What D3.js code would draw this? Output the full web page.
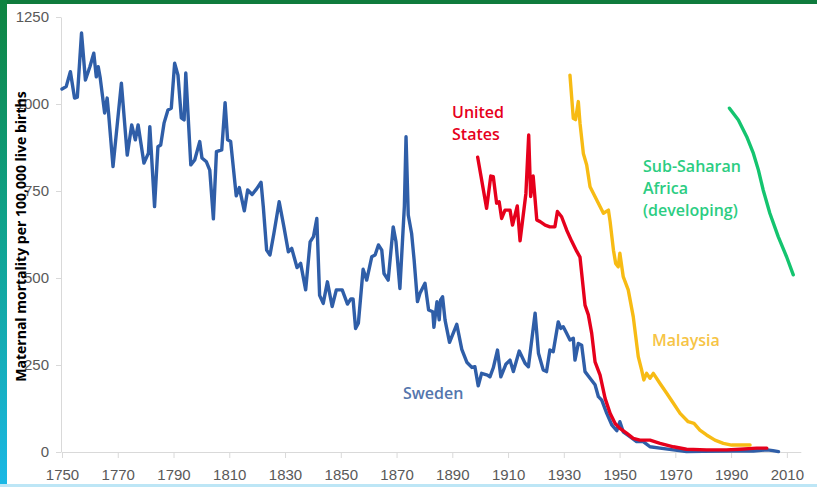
<!DOCTYPE html>
<html>
<head>
<meta charset="utf-8">
<script src="https://cdn.jsdelivr.net/npm/d3@7"></script>
<style>
  html, body { margin: 0; padding: 0; background: #fff; }
  svg { display: block; font-family: "Open Sans", "Liberation Sans", sans-serif; }
</style>
</head>
<body>
<svg id="chart" width="817" height="487"></svg>
<script>
// ---- data (year, deaths per 100,000 live births) ----
const swedenYears = [1750,1751.5,1753,1754.5,1755.5,1757,1758.4,1760,1761.4,1762.3,1763,1763.7,1765.3,1766.2,1766.7,1768.3,1771.3,1773.4,1775,1776.3,1777.3,1779.4,1781,1781.5,1783.2,1784.4,1785.4,1786.6,1788,1789.2,1790.4,1791.6,1792.8,1793.8,1794.4,1796.2,1797.6,1799.4,1800.2,1801.8,1803,1804.3,1805.4,1807.3,1808.5,1809.4,1810.5,1812.5,1813.6,1815.4,1816.6,1818.2,1819.8,1821.4,1822.2,1823.4,1824.6,1826,1827.9,1829.6,1831.2,1832.4,1834.3,1835.6,1837.4,1839,1840.2,1841.4,1842.4,1843.7,1845.2,1846.9,1848.4,1850.5,1852.4,1853.6,1854.4,1855.3,1856.3,1858,1859.3,1861.1,1862.3,1863.5,1864.7,1865.5,1867,1868.8,1869.8,1871.2,1872.8,1873.4,1874.2,1875.4,1876.3,1877.5,1878.4,1880.2,1881.5,1883,1883.4,1884.5,1885.3,1885.8,1886.5,1887.4,1889,1891.6,1893.4,1895.2,1897,1898.1,1899.3,1900.5,1902.6,1903.5,1904.7,1906.2,1907.4,1909.2,1910.7,1911.9,1914,1916.1,1917.3,1919.7,1920.9,1922.6,1923.8,1925,1926.2,1928,1928.9,1929.8,1931,1932.2,1933.4,1934,1935.2,1936.4,1937.6,1939.4,1941.2,1942.4,1943.6,1945.4,1947.2,1949,1950.1,1951.3,1953.7,1956.1,1958.5,1960.9,1964.5,1969.3,1974,1980,1990,1998,2003,2005,2007];
const swedenValues = [1043,1050,1093,1017,1020,1204,1069,1107,1146,1078,1107,1075,974,1017,974,820,1060,853,940,897,940,830,859,935,705,877,882,945,983,988,1117,1083,960,954,1089,825,839,892,845,834,810,670,863,868,1004,897,892,736,760,693,753,740,756,775,705,580,566,628,719,647,575,585,530,542,466,604,619,671,450,427,489,418,466,466,425,440,440,355,370,525,494,561,566,595,580,513,494,647,604,470,705,906,681,628,552,432,456,485,408,403,358,432,380,437,446,379,315,367,295,258,243,245,190,226,221,216,242,293,216,252,264,231,290,255,245,399,284,236,231,293,288,374,355,360,341,322,327,264,312,307,231,212,193,159,149,111,78,61,87,58,44,30,30,15,11,6,1,2,3,3,6,4,1];

const usYears = [1899.1,1902.3,1903.8,1904.7,1905.9,1906.8,1907.7,1908.9,1910.7,1911.6,1913.3,1914.3,1916.4,1917.4,1918.1,1919,1920.3,1921.5,1923.3,1925,1926.8,1927.7,1929.2,1931,1932.8,1934.6,1935.8,1936.4,1937.6,1938.8,1940,1941.2,1943,1944.8,1946.6,1948.4,1950.1,1952.5,1954.9,1957.3,1960.9,1964.5,1969.3,1974,1981.2,1988.4,1993.2,1999.2,2002.8];
const usValues = [847,700,793,791,715,719,671,695,695,652,707,607,743,911,734,793,667,662,652,647,647,691,676,638,606,577,560,514,422,394,341,259,221,154,111,82,68,54,39,34,34,25,15,8,6,6,8,11,11];

const malaysiaYears = [1932.2,1933.4,1934.2,1935.2,1935.8,1937,1938.2,1939.4,1941.8,1944.2,1946,1946.6,1947.8,1948.6,1949.5,1950.1,1951.3,1953.1,1954.9,1956.7,1957.9,1958.7,1959.7,1960.9,1962.1,1964.5,1966.9,1969.3,1971.7,1974.6,1976.7,1978.8,1981.2,1984.2,1987.2,1990.2,1993.2,1996.8];
const malaysiaValues = [1083,959,955,1007,945,858,825,762,724,686,695,662,580,542,532,571,504,466,389,274,236,207,226,212,226,197,169,140,111,87,82,63,49,34,25,20,20,20];

const ssaYears = [1989.4,1992.6,1995.6,1998,1999.8,2001.5,2003.9,2006.9,2009.9,2012.3];
const ssaValues = [988,954,906,858,810,753,686,619,561,509];

const xTicks = d3.range(1750, 2011, 20);
const yTicks = [0, 250, 500, 750, 1000, 1250];

const seriesNames = ["Sweden", "United States", "Malaysia", "Sub-Saharan Africa"];
const seriesColors = ["#2f5ea8", "#e6001c", "#f7bb14", "#14c46f"];

// ---- drawing ----
const svg = d3.select("#chart");
const W = 817, H = 487;

// slide frame
const defs = svg.append("defs");
const grad = defs.append("linearGradient").attr("id", "leftEdge")
  .attr("x1", 0).attr("y1", 0).attr("x2", 0).attr("y2", 1);
grad.append("stop").attr("offset", "0%").attr("stop-color", "#0e8440");
grad.append("stop").attr("offset", "45%").attr("stop-color", "#10a28a");
grad.append("stop").attr("offset", "100%").attr("stop-color", "#1bb8e6");

svg.append("rect").attr("width", W).attr("height", H).attr("fill", "#fff");
svg.append("rect").attr("x", 0).attr("y", 0).attr("width", W).attr("height", 4).attr("fill", "#0f7b3d");
svg.append("rect").attr("x", 0).attr("y", 0).attr("width", 7).attr("height", H).attr("fill", "url(#leftEdge)");
svg.append("rect").attr("x", 0).attr("y", 484).attr("width", W).attr("height", 3).attr("fill", "#bde6f6");

const x = d3.scaleLinear().domain([1750, 2015]).range([62, 800.8]);
const y = d3.scaleLinear().domain([0, 1250]).range([452, 17]);

// x axis
const xAxis = svg.append("g").attr("transform", `translate(0,${y(0)})`)
  .call(d3.axisBottom(x).tickValues(xTicks).tickFormat(d3.format("d")).tickSize(6).tickSizeOuter(0));
xAxis.select(".domain").attr("stroke", "#d9d9d9");
xAxis.selectAll(".tick line").attr("stroke", "#d9d9d9");
xAxis.selectAll(".tick text").attr("fill", "#595959").attr("font-size", 15).attr("dy", "1.25em");

// y axis
const yAxis = svg.append("g").attr("transform", `translate(${x(1750) - 1},0)`)
  .call(d3.axisLeft(y).tickValues(yTicks).tickFormat(d3.format("d")).tickSize(5).tickSizeOuter(0));
yAxis.select(".domain").attr("stroke", "#d9d9d9");
yAxis.selectAll(".tick line").attr("stroke", "#d9d9d9");
yAxis.selectAll(".tick text").attr("fill", "#595959").attr("font-size", 15).attr("x", -12);

// series
const line = d3.line().x(d => x(d[0])).y(d => y(d[1]));
const series = [
  d3.zip(swedenYears, swedenValues),
  d3.zip(usYears, usValues),
  d3.zip(malaysiaYears, malaysiaValues),
  d3.zip(ssaYears, ssaValues)
];
svg.append("g").selectAll("path").data(series).join("path")
  .attr("d", line)
  .attr("fill", "none")
  .attr("stroke", (d, i) => seriesColors[i])
  .attr("stroke-width", 3.4)
  .attr("stroke-linejoin", "round")
  .attr("stroke-linecap", "round")
  .attr("aria-label", (d, i) => seriesNames[i]);

// series labels
const labels = [
  { lines: ["United", "States"], x: 452, y: 118, color: "#e6001c" },
  { lines: ["Sweden"], x: 403, y: 399, color: "#5476ad" },
  { lines: ["Malaysia"], x: 652, y: 346, color: "#f6c445" },
  { lines: ["Sub-Saharan", "Africa", "(developing)"], x: 643, y: 172, color: "#2ccd82" }
];
labels.forEach(l => {
  const t = svg.append("text").attr("x", l.x).attr("y", l.y)
    .attr("fill", l.color).attr("font-size", 16).attr("font-weight", 600);
  l.lines.forEach((s, i) => t.append("tspan").attr("x", l.x).attr("dy", i ? 22 : 0).text(s));
});

// y axis title
svg.append("text")
  .attr("transform", `translate(26,${(y(0) + y(1250)) / 2 + 2}) rotate(-90)`)
  .attr("text-anchor", "middle")
  .attr("font-size", 14).attr("font-weight", 700).attr("fill", "#000")
  .text("Maternal mortality per 100,000 live births");
</script>
</body>
</html>
